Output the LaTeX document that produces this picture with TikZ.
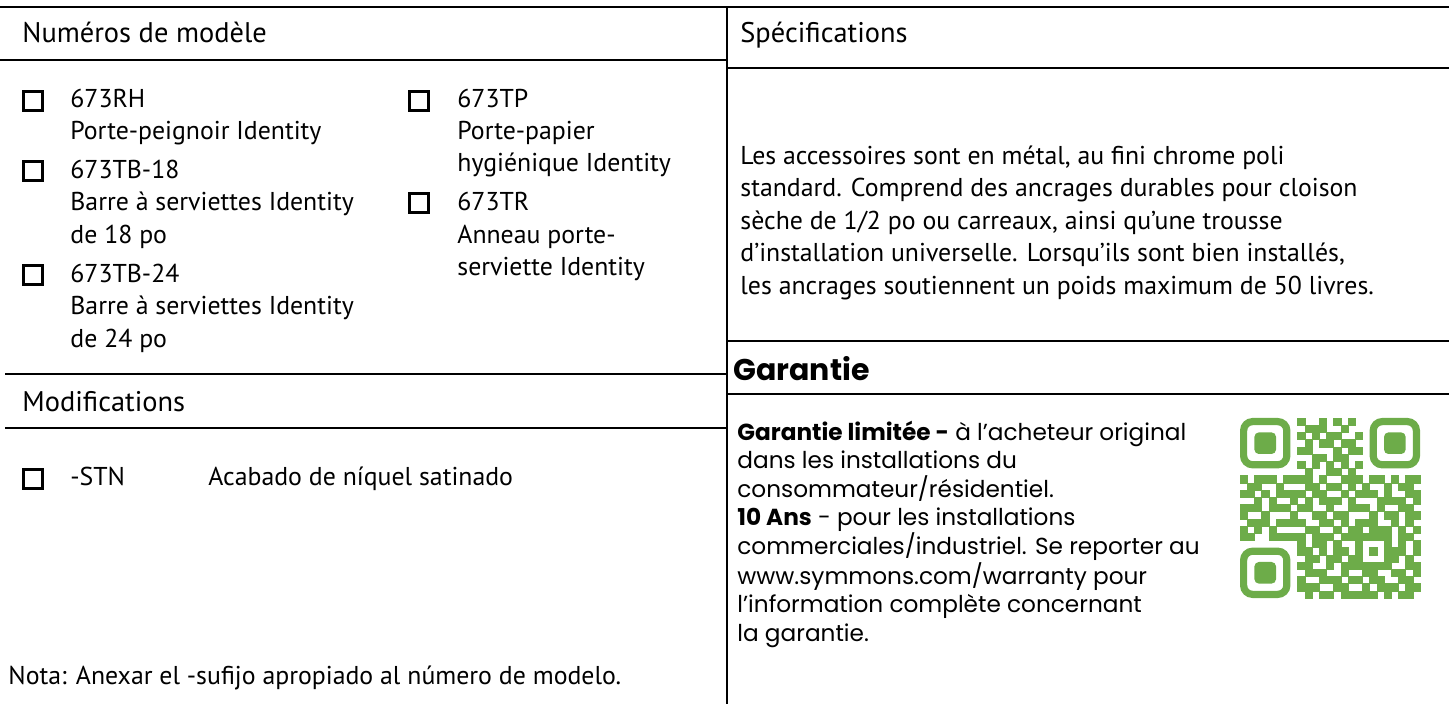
\documentclass[tikz,border=0pt]{standalone}
\usepackage{fontspec}
\setmainfont{PT Sans}
\newfontfamily\garfont{Poppins}
\usepackage{xstring}
\definecolor{qrgreen}{RGB}{109,172,73}

\begin{document}
\begin{tikzpicture}[x=0.5pt,y=-0.5pt]
			\tikzstyle{rule}=[-,draw=black,line width=0.9pt]
			\tikzstyle{txt}=[anchor=base west,inner sep=0pt,font=\fontsize{12.9}{15}\selectfont]
			\tikzstyle{hd}=[anchor=base west,inner sep=0pt,font=\fontsize{14.2}{16}\selectfont]
			\tikzstyle{gartxt}=[anchor=base west,inner sep=0pt,font=\garfont\fontsize{11.6}{13}\selectfont]
			\tikzstyle{garhead}=[anchor=base west,inner sep=0pt,font=\garfont\bfseries\fontsize{15}{17}\selectfont]
			\tikzstyle{chk}=[draw,line width=1.4pt,minimum size=9.6pt,inner sep=0pt]
			\tikzstyle{qr}=[fill=qrgreen]
			\useasboundingbox (0,0) rectangle (1449,704);
			% table rules
			\coordinate (tl) at (0,7);
			\coordinate (tr) at (1449,7);
			\coordinate (vt) at (727,7);
			\coordinate (vb) at (727,704);
			\coordinate (nl) at (0,60);
			\coordinate (nr) at (727,60);
			\coordinate (sl) at (727,68);
			\coordinate (sr) at (1449,68);
			\coordinate (ml) at (5,374);
			\coordinate (mr) at (727,374);
			\coordinate (ml2) at (5,428);
			\coordinate (mr2) at (727,428);
			\coordinate (gl) at (727,341);
			\coordinate (gr) at (1449,341);
			\coordinate (gl2) at (727,394);
			\coordinate (gr2) at (1449,394);
			\draw (tl) to (tr) [rule,line width=1.1pt];
			\draw (vt) to (vb) [rule];
			\draw (nl) to (nr) [rule];
			\draw (sl) to (sr) [rule];
			\draw (ml) to (mr) [rule];
			\draw (ml2) to (mr2) [rule];
			\draw (gl) to (gr) [rule];
			\draw (gl2) to (gr2) [rule];
			% model numbers
			\node[hd] (numhead) at (22,43) {Numéros de modèle};
			\node[chk] (c1) at (33,101) {};
			\node[txt] (m1) at (70,108) {673RH};
			\node[txt] (m1a) at (70,140) {Porte-peignoir Identity};
			\node[chk] (c2) at (33,171) {};
			\node[txt] (m2) at (70,179) {673TB-18};
			\node[txt] (m2a) at (70,211) {Barre à serviettes Identity};
			\node[txt] (m2b) at (70,244) {de 18 po};
			\node[chk] (c3) at (33,275) {};
			\node[txt] (m3) at (70,283) {673TB-24};
			\node[txt] (m3a) at (70,315) {Barre à serviettes Identity};
			\node[txt] (m3b) at (70,348) {de 24 po};
			\node[chk] (c4) at (419,101) {};
			\node[txt] (m4) at (457,108) {673TP};
			\node[txt] (m4a) at (457,140) {Porte-papier};
			\node[txt] (m4b) at (457,172) {hygiénique Identity};
			\node[chk] (c5) at (419,203) {};
			\node[txt] (m5) at (457,211) {673TR};
			\node[txt] (m5a) at (457,244) {Anneau porte-};
			\node[txt] (m5b) at (457,276) {serviette Identity};
			% modifications
			\node[hd] (modhead) at (22,412) {Modifications};
			\node[chk] (c6) at (33,479) {};
			\node[txt] (stn) at (70,486) {-STN};
			\node[txt] (stna) at (208,486) {Acabado de níquel satinado};
			\node[txt] (nota) at (8,684) {Nota: Anexar el -sufijo apropiado al número de modelo.};
			% specifications
			\node[hd] (spechead) at (740,43) {Spécifications};
			\node[txt] (s1) at (740,165) {Les accessoires sont en métal, au fini chrome poli};
			\node[txt] (s2) at (740,197) {standard. Comprend des ancrages durables pour cloison};
			\node[txt] (s3) at (740,230) {sèche de 1/2 po ou carreaux, ainsi qu’une trousse};
			\node[txt] (s4) at (740,262) {d’installation universelle. Lorsqu’ils sont bien installés,};
			\node[txt] (s5) at (740,295) {les ancrages soutiennent un poids maximum de 50 livres.};
			% warranty
			\node[garhead] (garhead) at (733,381) {Garantie};
			\node[gartxt] (g1) at (737,441) {\textbf{Garantie limitée -} à l’acheteur original};
			\node[gartxt] (g2) at (737,469) {dans les installations du};
			\node[gartxt] (g3) at (737,498) {consommateur/résidentiel.};
			\node[gartxt] (g4) at (737,526) {\textbf{10 Ans} - pour les installations};
			\node[gartxt] (g5) at (737,555) {commerciales/industriel. Se reporter au};
			\node[gartxt] (g6) at (737,584) {www.symmons.com/warranty pour};
			\node[gartxt] (g7) at (737,612) {l’information complète concernant};
			\node[gartxt] (g8) at (737,641) {la garantie.};
			% qr code
			\begin{scope}[shift={(1240,418)},x=3.6pt,y=-3.6pt]
				\foreach \fx/\fy in {0/0,18/0,0/18} {
					\draw[qrgreen,line width=3.6pt,rounded corners=4.5pt] (\fx+0.5,\fy+0.5) rectangle (\fx+6.5,\fy+6.5);
					\fill[qr,rounded corners=2.2pt] (\fx+2,\fy+2) rectangle (\fx+5,\fy+5);
				}
				\foreach \bits [count=\r from 0] in {%
					0000000010010101000000000,0000000001110010000000000,
					0000000010101100100000000,0000000001011011000000000,
					0000000011000101100000000,0000000000110110000000000,
					0000000010101010100000000,0000000001001101000000000,
					1011101111010011101101011,0110010001101101010010110,
					1101011110110010111010011,0010100101011101000111101,
					1110111011001001110100110,1001000100110110001011011,
					0111011110011010111001010,1010100001100101101110101,
					1100111110111011111110110,0000000010110100100010101,
					0000000011010110101011101,0000000001101101100011010,
					0000000011001011111110011,0000000001110010011001101,
					0000000010011101101100110,0000000011100110010111011,
					0000000001011011111010110} {
					\foreach \c in {1,...,25} {
						\StrChar{\bits}{\c}[\bit]
						\ifnum\bit=1 \fill[qr,draw=qrgreen,line width=0.2pt] (\c-1,\r) rectangle ++(1,1); \fi
					}
				}
			\end{scope}
		\end{tikzpicture}
\end{document}
